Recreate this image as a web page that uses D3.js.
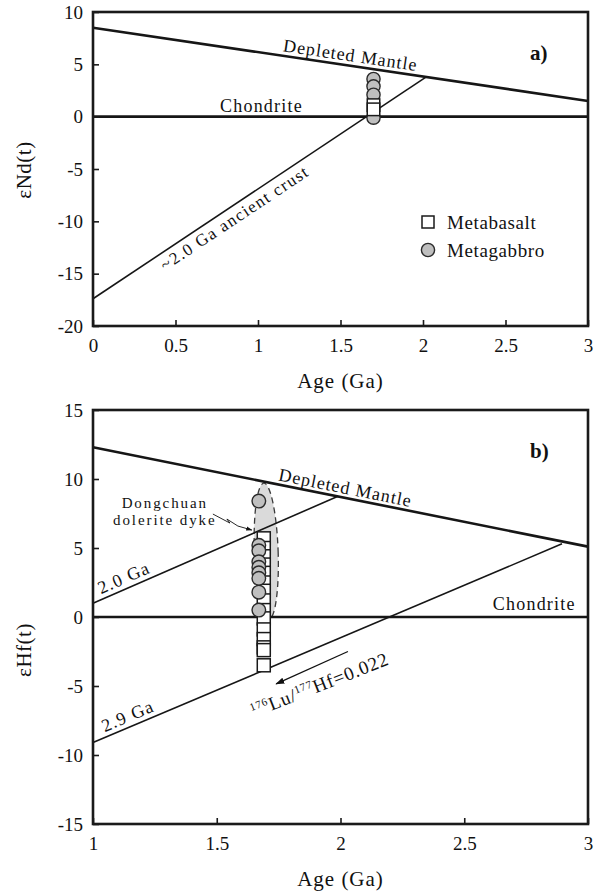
<!DOCTYPE html>
<html>
<head>
<meta charset="utf-8">
<script src="https://cdn.jsdelivr.net/npm/d3@7"></script>
<style>
  body { margin: 0; background: #fff; }
  svg { display: block; font-family: "Liberation Serif", "Times New Roman", serif; }
</style>
</head>
<body>
<div id="chart"></div>
<script>
// ---- values ----
// a) eNd(t) vs age
const ndAgeTicks = [0, 0.5, 1, 1.5, 2, 2.5, 3];
const ndTicks = [-20, -15, -10, -5, 0, 5, 10];
const ndDepletedMantle = [[0, 8.5], [3, 1.5]];
const ndChondrite = [[0, 0], [3, 0]];
const ndAncientCrust = [[0, -17.4], [2.02, 3.8]];
const ndMetabasalt = [[1.7, 1.1], [1.7, 0.7]];
const ndMetagabbro = [[1.7, 3.6], [1.7, 2.9], [1.7, 2.1], [1.7, -0.1]];

// b) eHf(t) vs age
const hfAgeTicks = [1, 1.5, 2, 2.5, 3];
const hfTicks = [-15, -10, -5, 0, 5, 10, 15];
const hfDepletedMantle = [[1, 12.3], [3, 5.1]];
const hfChondrite = [[1, 0], [3, 0]];
const hfCrust20 = [[1, 1.0], [1.99, 8.75]];
const hfCrust29 = [[1, -9.1], [2.895, 5.3]];
const hfMetabasaltAge = 1.69;
const hfMetabasalt = [5.7, 5.0, 4.4, 3.8, 3.2, 2.5, 1.9, 1.2, 0.5, -0.1, -0.9, -1.6, -2.2, -2.4, -3.5];
const hfMetagabbroAge = 1.67;
const hfMetagabbro = [8.4, 5.2, 4.8, 4.0, 3.6, 3.2, 2.8, 1.8, 0.5];
const dykeCentre = [1.70, 4.75];     // dashed field, centre (age, eHf)
const dykeRadii = [0.048, 4.95];     // half width (Ga), half height (eHf)
const luHfArrow = [[2.03, -2.5], [1.74, -4.85]];
const luHfLabelAt = [1.65, -7.3];
const dongchuanLabelAt = [1.29, 7.9];
const dongchuanArrowTip = [1.642, 6.3];

// ---- layout ----
const W = 602, H = 894;
const left = 93, right = 588;
const serif = "Liberation Serif, Times New Roman, serif";

const svg = d3.select("#chart").append("svg")
    .attr("width", W)
    .attr("height", H);

svg.append("defs").append("marker")
    .attr("id", "head")
    .attr("viewBox", "0 0 10 10")
    .attr("refX", 9).attr("refY", 5)
    .attr("markerWidth", 7).attr("markerHeight", 7)
    .attr("orient", "auto")
  .append("path")
    .attr("d", "M0,1.5 L10,5 L0,8.5 Z")
    .attr("fill", "#111");

function makePanel(top, bottom, xDomain, yDomain) {
  const x = d3.scaleLinear().domain(xDomain).range([left, right]);
  const y = d3.scaleLinear().domain(yDomain).range([bottom, top]);
  const g = svg.append("g");
  const line = d3.line().x(d => x(d[0])).y(d => y(d[1]));
  return { g, x, y, top, bottom, line };
}

function drawLine(p, pts, width) {
  p.g.append("path")
    .attr("d", p.line(pts))
    .attr("fill", "none")
    .attr("stroke", "#161616")
    .attr("stroke-width", width);
}

// text laid along a straight segment, lifted above it (negative = below)
function lineLabel(p, seg, age, text, lift, size, spacing) {
  const a = [p.x(seg[0][0]), p.y(seg[0][1])], b = [p.x(seg[1][0]), p.y(seg[1][1])];
  const th = Math.atan2(b[1] - a[1], b[0] - a[0]);
  const v = seg[0][1] + (seg[1][1] - seg[0][1]) * (age - seg[0][0]) / (seg[1][0] - seg[0][0]);
  const px = p.x(age) + lift * Math.sin(th), py = p.y(v) - lift * Math.cos(th);
  return p.g.append("text")
    .attr("transform", `translate(${px},${py}) rotate(${th * 180 / Math.PI})`)
    .attr("font-size", size)
    .attr("letter-spacing", spacing)
    .attr("fill", "#111")
    .text(text);
}

function squares(p, pts, side) {
  p.g.append("g").selectAll("rect").data(pts).join("rect")
    .attr("x", d => p.x(d[0]) - side / 2)
    .attr("y", d => p.y(d[1]) - side / 2)
    .attr("width", side).attr("height", side)
    .attr("fill", "#fff")
    .attr("stroke", "#1a1a1a")
    .attr("stroke-width", 1.5);
}

function circles(p, pts, r) {
  p.g.append("g").selectAll("circle").data(pts).join("circle")
    .attr("cx", d => p.x(d[0]))
    .attr("cy", d => p.y(d[1]))
    .attr("r", r)
    .attr("fill", "#bfbfbf")
    .attr("stroke", "#2a2a2a")
    .attr("stroke-width", 1.4);
}

function axesAndFrame(p, xTicks, yTicks, yTitle, yTitleAt, tag) {
  const fmt = d => String(d);
  const style = sel => {
    sel.select(".domain").remove();
    sel.selectAll("line").attr("stroke", "#1a1a1a").attr("stroke-width", 1.6);
    sel.selectAll("text").attr("fill", "#111");
    sel.attr("font-family", serif).attr("font-size", 19);
  };
  p.g.append("g")
    .attr("transform", `translate(0,${p.bottom})`)
    .call(d3.axisBottom(p.x).tickValues(xTicks).tickFormat(fmt)
      .tickSizeInner(-6).tickSizeOuter(0).tickPadding(13))
    .call(style);
  p.g.append("g")
    .attr("transform", `translate(${left},0)`)
    .call(d3.axisLeft(p.y).tickValues(yTicks).tickFormat(fmt)
      .tickSizeInner(-6).tickSizeOuter(0).tickPadding(10))
    .call(style);

  p.g.append("rect")
    .attr("x", left).attr("y", p.top)
    .attr("width", right - left).attr("height", p.bottom - p.top)
    .attr("fill", "none")
    .attr("stroke", "#1a1a1a")
    .attr("stroke-width", 2.6);

  p.g.append("text")
    .attr("x", (left + right) / 2).attr("y", p.bottom + 62)
    .attr("text-anchor", "middle")
    .attr("font-size", 21)
    .attr("letter-spacing", 1)
    .attr("fill", "#111")
    .text("Age (Ga)");

  p.g.append("text")
    .attr("transform", `translate(31,${yTitleAt}) rotate(-90)`)
    .attr("text-anchor", "middle")
    .attr("font-size", 21)
    .attr("letter-spacing", 0.5)
    .attr("fill", "#111")
    .text(yTitle);

  p.g.append("text")
    .attr("x", right - 58).attr("y", p.top + 48)
    .attr("font-size", 21)
    .attr("font-weight", "bold")
    .attr("fill", "#111")
    .text(tag);
}

// ================= a) eNd(t) =================
const a = makePanel(12, 326, [0, 3], [-20, 10]);

drawLine(a, ndChondrite, 2.6);
drawLine(a, ndDepletedMantle, 2.6);
drawLine(a, ndAncientCrust, 1.6);

lineLabel(a, ndDepletedMantle, 1.145, "Depleted Mantle", 4.5, 18, 1);
lineLabel(a, ndChondrite, 0.77, "Chondrite", 5, 18, 1.2);
lineLabel(a, ndAncientCrust, 0.38, "~2.0 Ga ancient crust", -17, 17, 1.4);

circles(a, ndMetagabbro, 6.6);
squares(a, ndMetabasalt, 12.5);

// legend
const legX = 428, legY = 222;
a.g.append("rect")
  .attr("x", legX - 6).attr("y", legY - 6)
  .attr("width", 12).attr("height", 12)
  .attr("fill", "#fff").attr("stroke", "#1a1a1a").attr("stroke-width", 1.5);
a.g.append("circle")
  .attr("cx", legX).attr("cy", legY + 28).attr("r", 6.6)
  .attr("fill", "#bfbfbf").attr("stroke", "#2a2a2a").attr("stroke-width", 1.4);
a.g.selectAll(".leg").data(["Metabasalt", "Metagabbro"]).join("text")
  .attr("x", legX + 19)
  .attr("y", (d, i) => legY + i * 28)
  .attr("dy", "0.35em")
  .attr("font-size", 19)
  .attr("letter-spacing", 0.6)
  .attr("fill", "#111")
  .text(d => d);

axesAndFrame(a, ndAgeTicks, ndTicks, "εNd(t)", 170, "a)");

// ================= b) eHf(t) =================
const b = makePanel(410, 824, [1, 3], [-15, 15]);

// Dongchuan dolerite dyke field
const ecx = b.x(dykeCentre[0]), ecy = b.y(dykeCentre[1]);
b.g.append("ellipse")
  .attr("cx", ecx).attr("cy", ecy)
  .attr("rx", b.x(dykeCentre[0] + dykeRadii[0]) - ecx)
  .attr("ry", ecy - b.y(dykeCentre[1] + dykeRadii[1]))
  .attr("transform", `rotate(-2,${ecx},${ecy})`)
  .attr("fill", "#dadada")
  .attr("stroke", "#3a3a3a")
  .attr("stroke-width", 1.3)
  .attr("stroke-dasharray", "6,4");

drawLine(b, hfChondrite, 2.6);
drawLine(b, hfDepletedMantle, 2.6);
drawLine(b, hfCrust20, 1.6);
drawLine(b, hfCrust29, 1.6);

lineLabel(b, hfDepletedMantle, 1.743, "Depleted Mantle", 4, 18, 1);
lineLabel(b, hfCrust20, 1.04, "2.0 Ga", 5, 18, 1.2);
lineLabel(b, hfCrust29, 1.055, "2.9 Ga", 5, 18, 1.2);
lineLabel(b, hfChondrite, 2.95, "Chondrite", 7, 18, 1.2).attr("text-anchor", "end");

squares(b, hfMetabasalt.map(v => [hfMetabasaltAge, v]), 13);
circles(b, hfMetagabbro.map(v => [hfMetagabbroAge, v]), 6.8);

// Dongchuan label with squiggle arrow
const dlx = b.x(dongchuanLabelAt[0]), dly = b.y(dongchuanLabelAt[1]);
b.g.selectAll(".dong").data(["Dongchuan", "dolerite dyke"]).join("text")
  .attr("x", dlx)
  .attr("y", (d, i) => dly + i * 17)
  .attr("text-anchor", "middle")
  .attr("font-size", 15)
  .attr("letter-spacing", 1.9)
  .attr("fill", "#111")
  .text(d => d);
const tx = b.x(dongchuanArrowTip[0]), ty = b.y(dongchuanArrowTip[1]);
const zig = [[-39, -16], [-22, -7], [-25, -11], [-14, -4], [0, 0]];
b.g.append("path")
  .attr("d", d3.line()(zig.map(d => [tx + d[0], ty + d[1]])))
  .attr("fill", "none")
  .attr("stroke", "#111")
  .attr("stroke-width", 0.9)
  .attr("marker-end", "url(#head)");

// 176Lu/177Hf decay arrow and label
b.g.append("path")
  .attr("d", b.line(luHfArrow))
  .attr("stroke", "#111")
  .attr("stroke-width", 1.3)
  .attr("marker-end", "url(#head)");
const lu = b.g.append("text")
  .attr("transform", `translate(${b.x(luHfLabelAt[0])},${b.y(luHfLabelAt[1])}) rotate(-21.5)`)
  .attr("font-size", 19)
  .attr("letter-spacing", 0.8)
  .attr("fill", "#111");
lu.append("tspan").attr("font-size", 11).attr("dy", -7).text("176");
lu.append("tspan").attr("dy", 7).text("Lu/");
lu.append("tspan").attr("font-size", 11).attr("dy", -7).text("177");
lu.append("tspan").attr("dy", 7).text("Hf=0.022");

axesAndFrame(b, hfAgeTicks, hfTicks, "εHf(t)", 650, "b)");
</script>
</body>
</html>
